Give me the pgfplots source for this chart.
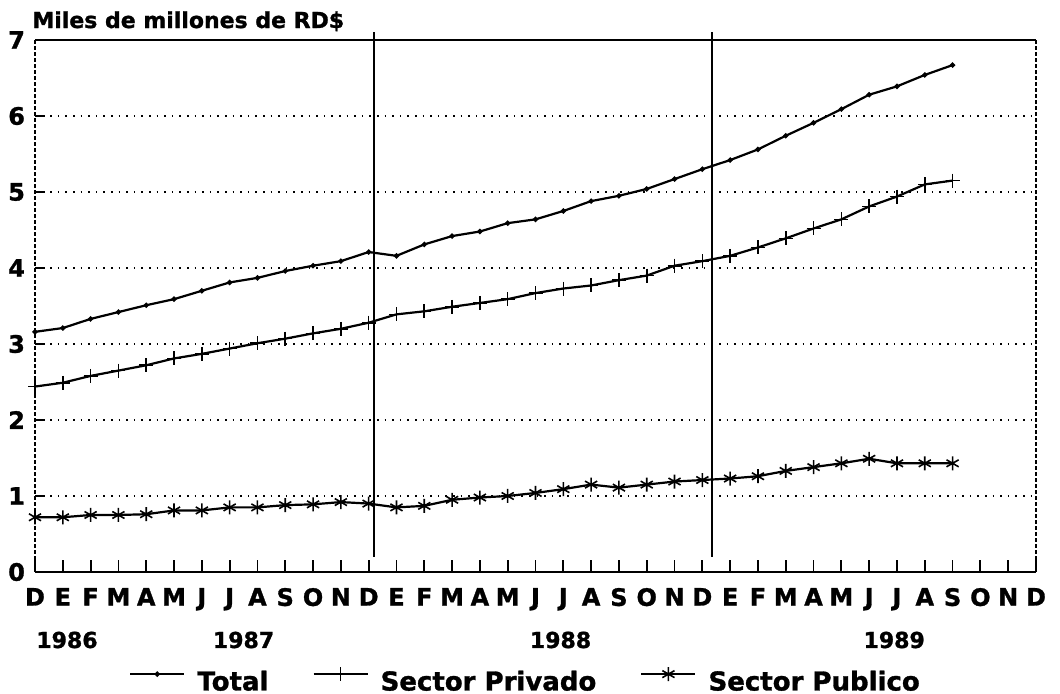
\documentclass[border=0pt]{standalone}
\usepackage{fontspec}
\setmainfont{DejaVu Sans}
\newfontface\hv{DejaVu Sans Bold}[FakeBold=1.2]
\usepackage{pgfplots}
\pgfplotsset{compat=1.18}
\newcommand{\lf}{\hv\fontsize{11}{13}\selectfont}
\newcommand{\tf}{\hv\fontsize{12}{14}\selectfont}
\begin{document}
\begin{tikzpicture}
\path[use as bounding box] (-17.5pt,-61pt) rectangle (512.5pt,286pt);
\begin{axis}[
  at={(0,0)}, anchor=south west,
  scale only axis, width=500.5pt, height=266pt,
  xmin=0, xmax=36, ymin=0, ymax=7,
  clip=false,
  axis line style={draw=none},
  xtick={0,...,36},
  xticklabels={D,E,F,M,A,M,J,J,A,S,O,N,D,E,F,M,A,M,J,J,A,S,O,N,D,E,F,M,A,M,J,J,A,S,O,N,D},
  ytick={0,...,7},
  tick align=inside, xtick pos=left, ytick pos=left,
  x tick style={line width=0.9pt, black, /pgfplots/major tick length=6pt},
  y tick style={line width=0.9pt, black, /pgfplots/major tick length=5pt},
  ymajorgrids, grid style={black, line width=0.8pt, dash pattern=on 0.8pt off 3pt},
  /pgf/number format/assume math mode=true,
  xticklabel style={font=\tf, yshift=-4.5pt, inner xsep=0pt},
  yticklabel style={font=\tf, xshift=-1.5pt},
  legend style={draw=none, fill=none, at={(0.491,-0.207)}, anchor=center,
    legend columns=3, font=\hv\fontsize{13}{15}\selectfont,
    /tikz/every odd column/.append style={column sep=4pt},
    /tikz/every even column/.append style={column sep=20pt}},
  legend image code/.code={
    \draw[mark repeat=2,mark phase=2] plot coordinates {(0pt,4pt) (13.5pt,4pt) (27pt,4pt)};
  },
]
\addplot[black, line width=1.1pt, mark=*, mark size=0.7pt] coordinates {
(0,3.16) (1,3.21) (2,3.33) (3,3.42) (4,3.51) (5,3.59) (6,3.70) (7,3.81) (8,3.87)
(9,3.96) (10,4.03) (11,4.09) (12,4.21) (13,4.16) (14,4.31) (15,4.42) (16,4.48)
(17,4.59) (18,4.64) (19,4.75) (20,4.88) (21,4.95) (22,5.04) (23,5.17) (24,5.30)
(25,5.42) (26,5.56) (27,5.74) (28,5.91) (29,6.09) (30,6.28) (31,6.39) (32,6.54) (33,6.67)};
\addlegendentry{Total}
\addplot[black, line width=1.1pt, mark=+, mark size=3.5pt, mark options={line width=0.8pt}] coordinates {
(0,2.44) (1,2.49) (2,2.58) (3,2.65) (4,2.72) (5,2.81) (6,2.87) (7,2.94) (8,3.01)
(9,3.07) (10,3.14) (11,3.20) (12,3.28) (13,3.39) (14,3.43) (15,3.49) (16,3.54)
(17,3.59) (18,3.67) (19,3.73) (20,3.77) (21,3.84) (22,3.90) (23,4.03) (24,4.09)
(25,4.16) (26,4.27) (27,4.39) (28,4.52) (29,4.64) (30,4.81) (31,4.94) (32,5.10) (33,5.15)};
\addlegendentry{Sector Privado}
\addplot[black, line width=1.1pt, mark=asterisk, mark size=3.5pt, mark options={line width=0.8pt}] coordinates {
(0,0.72) (1,0.72) (2,0.75) (3,0.75) (4,0.76) (5,0.81) (6,0.81) (7,0.85) (8,0.85)
(9,0.88) (10,0.89) (11,0.92) (12,0.90) (13,0.85) (14,0.87) (15,0.95) (16,0.98)
(17,1.00) (18,1.04) (19,1.09) (20,1.15) (21,1.11) (22,1.15) (23,1.19) (24,1.21)
(25,1.23) (26,1.26) (27,1.33) (28,1.38) (29,1.43) (30,1.49) (31,1.43) (32,1.43) (33,1.43)};
\addlegendentry{Sector Publico}
% frame
\draw[line width=1.3pt] (axis cs:0,0) -- (axis cs:36,0);
\draw[line width=1.1pt] (axis cs:0,7) -- (axis cs:36,7);
\draw[line width=0.7pt, dash pattern=on 2pt off 1pt] (axis cs:0,0) -- (axis cs:0,7);
\draw[line width=0.7pt, dash pattern=on 2pt off 1pt] (axis cs:36,0) -- (axis cs:36,7);
% year separators
\draw[line width=1pt] (axis cs:12.2,0.2) -- (axis cs:12.2,7.1);
\draw[line width=1pt] (axis cs:24.35,0.2) -- (axis cs:24.35,7.1);
% texts
\node[anchor=base west, font=\lf, inner sep=0pt] at ([xshift=-1.5pt,yshift=6pt]axis cs:0,7) {Miles de millones de RD\$};
\node[anchor=base, font=\lf] at ([yshift=-38pt]axis cs:1.15,0) {1986};
\node[anchor=base, font=\lf] at ([yshift=-38pt]axis cs:7.5,0) {1987};
\node[anchor=base, font=\lf] at ([yshift=-38pt]axis cs:18.9,0) {1988};
\node[anchor=base, font=\lf] at ([yshift=-38pt]axis cs:30.9,0) {1989};
\end{axis}
\end{tikzpicture}
\end{document}
